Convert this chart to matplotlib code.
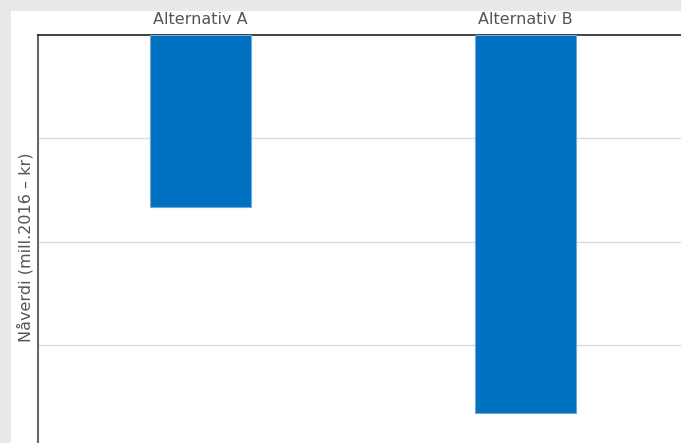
import matplotlib
matplotlib.use("Agg")
import matplotlib.pyplot as plt
from matplotlib.patches import Rectangle

categories = ["Alternativ A", "Alternativ B"]
values = [-166, -366]
grid_values = [-100, -200, -300, -400]
ylabel = "Nåverdi (mill.2016 – kr)"

plt.rcParams['font.family'] = ['DejaVu Sans']

W, H = 681, 443
fig = plt.figure(figsize=(W / 100, H / 100), dpi=100)
fig.patch.set_facecolor("#e8e9eb")
fig.patches.append(Rectangle((11 / W, 0), 1, 1 - 11 / H, transform=fig.transFigure,
                             facecolor="white", edgecolor="none", zorder=-10))

left, top, right, bottom = 38, 35, 688, 459
ax = fig.add_axes([left / W, (H - bottom) / H, (right - left) / W, (bottom - top) / H])
ax.set_zorder(5)
ax.set_facecolor("white")

x = list(range(len(categories)))
ax.bar(x, values, width=0.31, color="#0070c0", edgecolor="#6fa8dc", linewidth=0.8, zorder=3)

ax.set_xlim(-0.5, len(categories) - 0.5)
ax.set_ylim(-410, 0)
ax.set_yticks(grid_values)
ax.set_yticklabels([])
ax.tick_params(axis="y", length=0)
ax.grid(axis="y", color="#dcdcdc", linewidth=1, zorder=0)

ax.xaxis.tick_top()
ax.set_xticks(x)
ax.set_xticklabels(categories, fontsize=11.5, color="#555555")
ax.tick_params(axis="x", length=0, pad=6)

ax.set_ylabel(ylabel, fontsize=11.5, color="#555555")
ax.yaxis.set_label_coords(-4 / (right - left), 0.5)

for s in ["right", "bottom"]:
    ax.spines[s].set_visible(False)
ax.spines["top"].set_color("#222222")
ax.spines["top"].set_linewidth(1.2)
ax.spines["left"].set_color("#666666")
ax.spines["left"].set_linewidth(1.5)

fig.savefig("out.png", dpi=100, facecolor=fig.get_facecolor())
